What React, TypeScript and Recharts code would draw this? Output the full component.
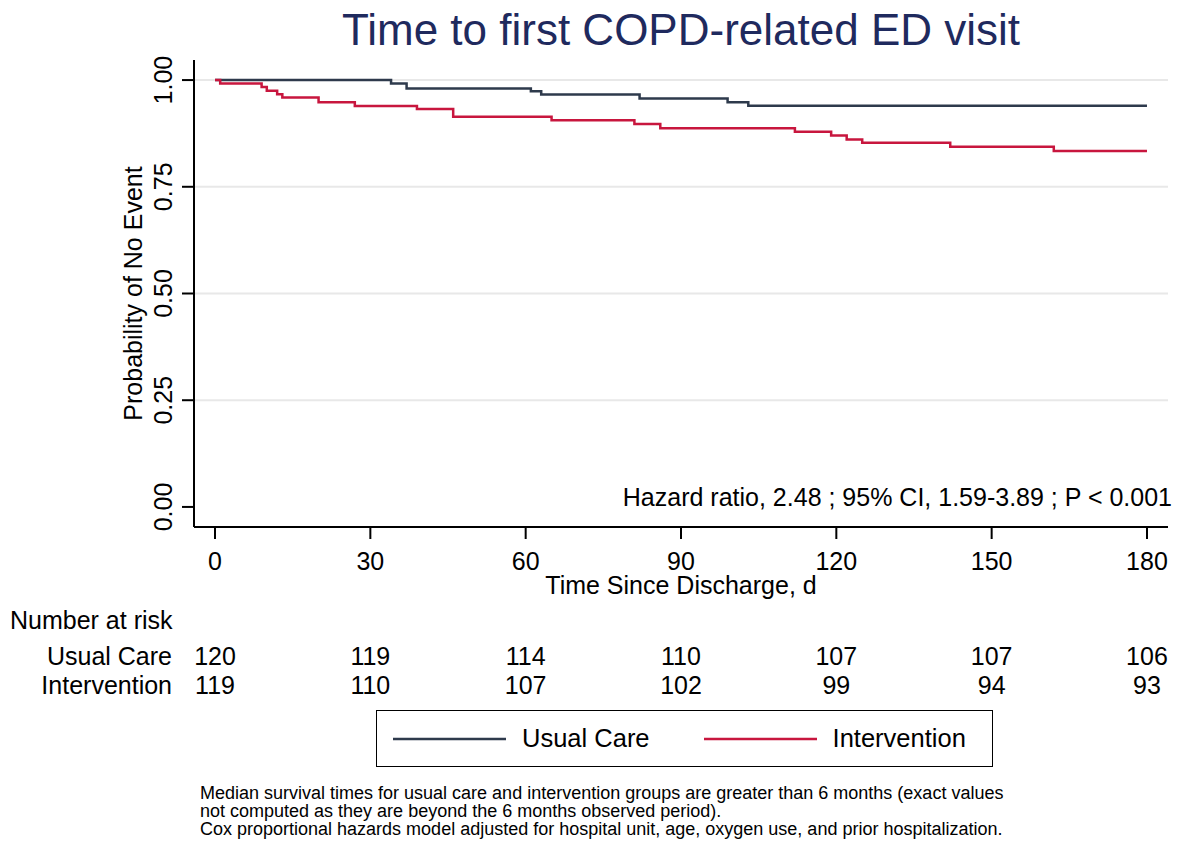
import React from 'react';
import { LineChart, Line, XAxis, YAxis, CartesianGrid, Legend, Label } from 'recharts';

// Kaplan-Meier estimates (days since discharge)
const usualDays = [0, 34, 37, 61, 63, 82, 99, 103, 180];
const usualSurv = [1, 0.992, 0.98, 0.974, 0.966, 0.957, 0.948, 0.94, 0.94];

const interventionDays = [0, 1, 9, 10, 12, 13, 20, 27, 39, 46, 65, 81, 86, 112, 119, 122, 125, 142, 162, 180];
const interventionSurv = [1, 0.992, 0.984, 0.975, 0.967, 0.959, 0.948, 0.939, 0.932, 0.914, 0.906, 0.897, 0.887, 0.879, 0.87, 0.861, 0.853, 0.844, 0.834, 0.834];

// number at risk table
const riskDays = [0, 30, 60, 90, 120, 150, 180];
const usualAtRisk = [120, 119, 114, 110, 107, 107, 106];
const interventionAtRisk = [119, 110, 107, 102, 99, 94, 93];

const yTicks = [0, 0.25, 0.5, 0.75, 1];
const seriesOrder = ['Usual Care', 'Intervention'];

const usualData = usualDays.map((d, i) => ({ day: d, p: usualSurv[i] }));
const interventionData = interventionDays.map((d, i) => ({ day: d, p: interventionSurv[i] }));

const FONT = '"Liberation Sans", Arial, sans-serif';
const USUAL_COLOR = '#2e3a4c';
const INTERVENTION_COLOR = '#c8163e';

const YTick = (props: any) => {
    const { x, y, payload } = props;
    return (
        <text x={x} y={y} transform={`rotate(-90, ${x}, ${y})`} textAnchor="middle"
            fontSize={25} fontFamily={FONT} fill="#000">
            {payload.value.toFixed(2)}
        </text>
    );
};

// day label plus the two "number at risk" rows under each tick
const XTick = (props: any) => {
    const { x, y, payload } = props;
    const idx = riskDays.indexOf(payload.value);
    const txt = { textAnchor: 'middle' as const, fontSize: 25, fontFamily: FONT, fill: '#000' };
    return (
        <g>
            <text x={x} y={y} dy="0.71em" {...txt}>{payload.value}</text>
            <text x={x} y={y + 113} {...txt}>{idx >= 0 ? usualAtRisk[idx] : ''}</text>
            <text x={x} y={y + 142} {...txt}>{idx >= 0 ? interventionAtRisk[idx] : ''}</text>
        </g>
    );
};

const YLabel = (props: any) => {
    const vb = props.viewBox;
    const cx = vb.x + 19;
    const cy = vb.y + vb.height / 2;
    return (
        <text x={cx} y={cy} transform={`rotate(-90, ${cx}, ${cy})`} textAnchor="middle"
            dominantBaseline="central" fontSize={25} fontFamily={FONT} fill="#000">
            Probability of No Event
        </text>
    );
};

const LegendBox = (props: any) => {
    const items = [...(props.payload || [])].sort(
        (a: any, b: any) => seriesOrder.indexOf(a.value) - seriesOrder.indexOf(b.value));
    return (
        <div style={{ display: 'flex', alignItems: 'center', height: '100%', paddingLeft: 16, fontFamily: FONT, fontSize: 25.5 }}>
            {items.map((it: any, i: number) => (
                <div key={i} style={{ display: 'flex', alignItems: 'center', marginLeft: i === 0 ? 0 : 54 }}>
                    <svg width={113} height={6} style={{ marginRight: 16 }}>
                        <line x1={0} y1={3} x2={113} y2={3} stroke={it.color} strokeWidth={2.5} />
                    </svg>
                    <span>{it.value}</span>
                </div>
            ))}
        </div>
    );
};

const abs = (extra: React.CSSProperties): React.CSSProperties => ({
    position: 'absolute', fontFamily: FONT, whiteSpace: 'nowrap', lineHeight: 1, color: '#000', ...extra,
});

export default function App() {
    return (
        <div style={{ position: 'absolute', left: 0, top: 0, width: 1182, height: 846, background: '#fff' }}>
            <div style={abs({ left: 0, width: 1362, top: 8, fontSize: 44, color: '#1f2a5e', textAlign: 'center' })}>
                Time to first COPD-related ED visit
            </div>

            <LineChart width={1182} height={846} margin={{ top: 60, right: 14, left: 114, bottom: 204 }}>
                <CartesianGrid xAxisId="t" vertical={false} horizontalValues={[0.25, 0.5, 0.75, 1]}
                    stroke="#e8e8e8" strokeWidth={2} />
                <XAxis xAxisId="t" dataKey="day" type="number" domain={[-4.06, 184.06]} ticks={riskDays}
                    allowDataOverflow height={115} tickSize={12} tickMargin={13}
                    stroke="#000" strokeWidth={2} tick={<XTick />}>
                    <Label value="Time Since Discharge, d" position="insideTop" offset={49}
                        style={{ fontSize: 25, fontFamily: FONT, fill: '#000' }} />
                </XAxis>
                <YAxis type="number" domain={[-0.047, 1.047]} ticks={yTicks} allowDataOverflow width={80}
                    tickSize={12} tickMargin={10} stroke="#000" strokeWidth={2} tick={<YTick />}>
                    <Label content={<YLabel />} />
                </YAxis>

                <Legend layout="horizontal" verticalAlign="middle" align="center" content={<LegendBox />}
                    wrapperStyle={{ position: 'absolute', left: 376, top: 710, width: 617, height: 57, border: '1.5px solid #000', boxSizing: 'border-box', background: '#fff' }} />

                <Line xAxisId="t" data={usualData} dataKey="p" name="Usual Care" type="stepAfter"
                    stroke={USUAL_COLOR} strokeWidth={2.5} dot={false} isAnimationActive={false} />
                <Line xAxisId="t" data={interventionData} dataKey="p" name="Intervention" type="stepAfter"
                    stroke={INTERVENTION_COLOR} strokeWidth={2.5} dot={false} isAnimationActive={false} />
            </LineChart>

            <div style={abs({ right: 10, top: 485, fontSize: 25 })}>
                Hazard ratio, 2.48 ; 95% CI, 1.59-3.89 ; P &lt; 0.001
            </div>

            <div style={abs({ left: 10, top: 608, fontSize: 25 })}>Number at risk</div>
            <div style={abs({ left: 0, width: 172, top: 644, fontSize: 25, textAlign: 'right' })}>Usual Care</div>
            <div style={abs({ left: 0, width: 172, top: 673, fontSize: 25, textAlign: 'right' })}>Intervention</div>

            <div style={abs({ left: 200, top: 784, fontSize: 18, lineHeight: '18px' })}>
                Median survival times for usual care and intervention groups are greater than 6 months (exact values<br />
                not computed as they are beyond the 6 months observed period).<br />
                Cox proportional hazards model adjusted for hospital unit, age, oxygen use, and prior hospitalization.
            </div>
        </div>
    );
}
